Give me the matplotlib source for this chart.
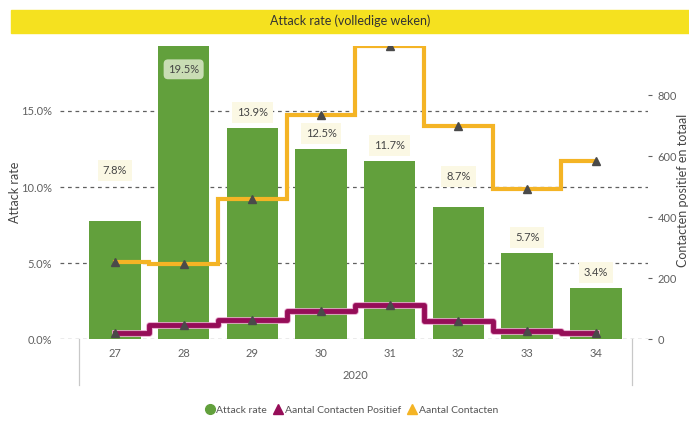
import matplotlib
matplotlib.use('Agg')
import matplotlib.pyplot as plt
import matplotlib.patheffects as pe
from matplotlib.lines import Line2D
from matplotlib.patches import Rectangle

# data
weeks = ['27', '28', '29', '30', '31', '32', '33', '34']
year = '2020'
attack_rate = [7.8, 19.5, 13.9, 12.5, 11.7, 8.7, 5.7, 3.4]
contacten_positief = [22, 47, 63, 92, 112, 60, 28, 22]
contacten = [254, 247, 460, 735, 961, 699, 492, 585]
left_ticks = [0, 5, 10, 15]
right_ticks = [0, 200, 400, 600, 800]

GREEN = '#62A03C'
ORANGE = '#F4B425'
PURPLE = '#960D58'
MARK = '#4A4A4A'
GREY = '#606060'

plt.rcParams['font.family'] = ['Lato', 'DejaVu Sans']

fig = plt.figure(figsize=(6.89, 4.25), dpi=100)
ax = fig.add_axes([60 / 689, 1 - 339.3 / 425, 588 / 689, 293.6 / 425])
ax2 = ax.twinx()

x = list(range(len(weeks)))

# title band
fig.patches.append(Rectangle((11 / 689, 1 - 33 / 425), 1, 23 / 425,
                             transform=fig.transFigure, color='#F5E11F', zorder=0))
fig.text(0.508, 1 - 21 / 425, 'Attack rate (volledige weken)', ha='center', va='center',
         fontsize=9, color='#333333')

# bars
ax.bar(x, attack_rate, width=0.75, color=GREEN, zorder=2)
ax.set_ylim(0, 19.29)
ax.set_xlim(-0.8, 7.76)
ax.set_yticks(left_ticks)
ax.set_yticklabels(['%.1f%%' % t for t in left_ticks])
ax.grid(axis='y', linestyle=(0, (3, 3)), color=GREY, linewidth=0.9, zorder=0)
ax.set_axisbelow(True)
ax.set_xticks(x)
ax.set_xticklabels(weeks)
ax.tick_params(axis='both', length=0, labelsize=8, colors=GREY, pad=6)
fig.text(15 / 689, 1 - 192 / 425, 'Attack rate', rotation=90, ha='center', va='center',
         fontsize=9, color='#444444')

# data labels
extra = {0: 25, 5: 11}
for i, v in enumerate(attack_rate):
    if i == 1:
        ax.annotate('%.1f%%' % v, (i, 19.29), xytext=(0, -17), textcoords='offset points',
                    ha='center', va='center', fontsize=8, color='#444444', zorder=6,
                    bbox=dict(boxstyle='round,pad=0.4', fc='#C9DDB4', ec='none'))
    else:
        ax.annotate('%.1f%%' % v, (i, v), xytext=(0, 11 + extra.get(i, 0)),
                    textcoords='offset points', ha='center', va='center',
                    fontsize=8, color='#444444', zorder=6,
                    bbox=dict(boxstyle='square,pad=0.45', fc='#FBF8E4', ec='none'))

# lines on right axis
ax2.plot(x, contacten, drawstyle='steps-mid', color=ORANGE, linewidth=3, zorder=3,
         solid_joinstyle='miter')
ax2.plot(x, contacten, linestyle='none', marker='^', markersize=5.5, color=MARK, zorder=5)
ax2.plot(x, contacten_positief, drawstyle='steps-mid', color=PURPLE, linewidth=3.5, zorder=4,
         path_effects=[pe.Stroke(linewidth=4.8, foreground='#E7A6CC'), pe.Normal()])
ax2.plot(x, contacten_positief, linestyle='none', marker='^', markersize=5.5, color=MARK, zorder=5)
ax2.set_ylim(0, 963)
ax2.set_yticks(right_ticks)
ax2.tick_params(axis='y', length=3, width=0.8, colors=GREY, labelsize=8, pad=4)
fig.text(683 / 689, 1 - 190 / 425, 'Contacten positief en totaal', rotation=90,
         ha='center', va='center', fontsize=9, color='#444444')

for a in (ax, ax2):
    for s in a.spines.values():
        s.set_visible(False)

# category axis separators and year label
tr = ax.get_xaxis_transform()
for xs in (-0.52, 7.52):
    ax.plot([xs, xs], [0, -0.156], transform=tr, color='#C8C8C8', linewidth=0.9, clip_on=False)
ax.text(3.5, -0.122, year, transform=tr, ha='center', va='center', fontsize=8, color=GREY)

# legend
handles = [
    Line2D([], [], linestyle='none', marker='o', markersize=7, color=GREEN),
    Line2D([], [], linestyle='none', marker='^', markersize=7, color=PURPLE),
    Line2D([], [], linestyle='none', marker='^', markersize=7, color=ORANGE),
]
fig.legend(handles, ['Attack rate', 'Aantal Contacten Positief', 'Aantal Contacten'],
           loc='center', bbox_to_anchor=(0.51, 1 - 410 / 425), ncol=3, frameon=False,
           fontsize=7.5, labelcolor='#555555', handletextpad=0.1, columnspacing=0.6,
           handlelength=1)

fig.savefig('out.png', dpi=100)
